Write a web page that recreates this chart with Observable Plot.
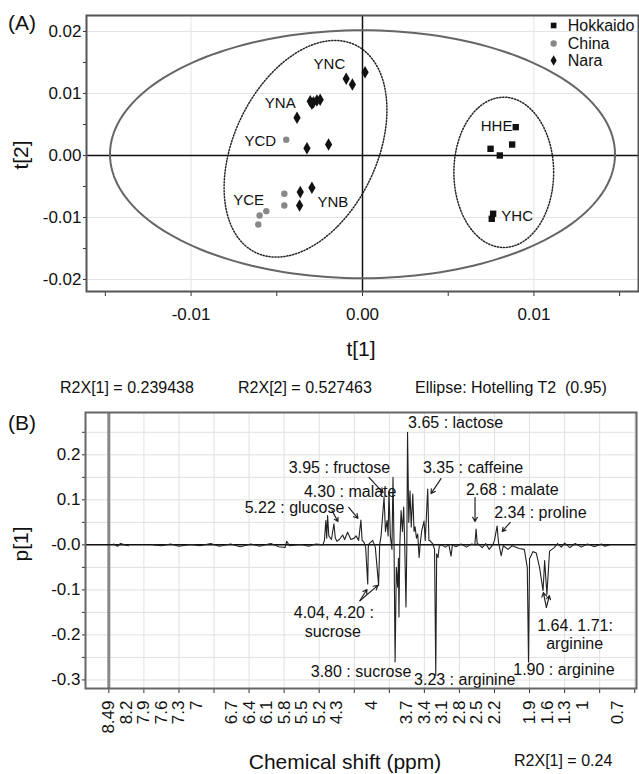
<!DOCTYPE html>
<html><head><meta charset="utf-8">
<script src="https://cdn.jsdelivr.net/npm/d3@7"></script>
<script src="https://cdn.jsdelivr.net/npm/@observablehq/plot@0.6"></script>
<style>
body{margin:0;background:#fff;font-family:"Liberation Sans",Arial,sans-serif;}
#wrap{position:relative;width:639px;height:774px;overflow:hidden;background:#fff;}
#wrap svg{position:absolute;left:0;}
.t{position:absolute;white-space:nowrap;color:#111;line-height:1;font-family:"Liberation Sans",Arial,sans-serif;}
</style></head><body><div id="wrap"></div>
<script>
// ---------- Panel A: PCA scores ----------
const hokkaidoT1 = [0.00894, 0.00747, 0.00873, 0.00801, 0.00762, 0.00754];
const hokkaidoT2 = [0.00457, 0.00108, 0.00177, 0.0, -0.0094, -0.01021];
const chinaT1 = [-0.00445, -0.00456, -0.00456, -0.00561, -0.0060, -0.00608];
const chinaT2 = [0.00253, -0.00618, -0.00806, -0.00898, -0.00968, -0.01113];
const naraT1 = [0.00015, -0.00095, -0.00059, -0.00305, -0.00286, -0.00266, -0.00247, -0.00295, -0.00382, -0.00324, -0.00198, -0.00363, -0.00295, -0.00367];
const naraT2 = [0.01344, 0.01237, 0.01145, 0.00876, 0.0086, 0.00887, 0.00898, 0.00834, 0.00608, 0.00118, 0.00177, -0.00591, -0.00521, -0.00806];

const sampleNames = ["YNC", "YNA", "YCD", "YCE", "YNB", "HHE", "YHC"];
const sampleLabelT1 = [-0.00193, -0.0048, -0.00596, -0.00664, -0.00173, 0.00782, 0.00902];
const sampleLabelT2 = [0.01468, 0.00844, 0.00231, -0.00726, -0.00753, 0.00468, -0.00984];

const legendNames = ["Hokkaido", "China", "Nara"];
const legendSymbols = ["square", "circle", "diamond"];
const legendColors = ["#111", "#888", "#111"];

// ellipses: centre + two semi-axis vectors (data units)
const ellipseCX = [0, -0.003324, 0.00824];
const ellipseCY = [0.0002, 0.00108, -0.00272];
const ellipseAX = [0.01473, 0.002908, 0.00291];
const ellipseAY = [0, 0.01674, 0];
const ellipseBX = [0, 0.003755, 0];
const ellipseBY = [0.0200, -0.005008, 0.01212];

const xTicksA = [-0.015, -0.01, -0.005, 0, 0.005, 0.01, 0.015];
const xLabelsA = [-0.01, 0, 0.01];
const yTicksA = [-0.02, -0.015, -0.01, -0.005, 0, 0.005, 0.01, 0.015, 0.02];
const yLabelsA = [-0.02, -0.01, 0, 0.01, 0.02];

// ---------- Panel B: loading spectrum p[1] ----------
const shiftLabels = ["8.49","8.2","7.9","7.6","7.3","7","6.7","6.4","6.1","5.8","5.5","5.2","4.3","4","3.7","3.4","3.1","2.8","2.5","2.2","1.9","1.6","1.3","1","0.7"];
const shiftLabelPos = [0,1,2,3,4,5,7,8,9,10,11,12,13,15,17,18,19,20,21,22,24,25,26,27,29];
const tickPosB = [0,2,4,6,8,10,12,14,16,18,20,22,24,26,28,30];
const yTicksB = [-0.3,-0.25,-0.2,-0.15,-0.1,-0.05,0,0.05,0.1,0.15,0.2,0.25];
const yLabelsB = [-0.3,-0.2,-0.1,0,0.1,0.2];

const specPos = [0.27,0.5,0.67,0.9,1.13,1.5,
 2.55,3.0,3.53,4.0,4.67,5.2,5.81,6.3,6.95,7.5,8.1,8.6,9.24,9.7,10.05,10.15,10.3,10.95,11.4,11.81,12.21,
 12.3,12.38,12.43,12.48,12.55,12.7,12.84,12.92,13.01,13.15,13.34,13.45,13.62,13.81,14.0,14.1,14.25,14.38,14.45,14.55,14.65,14.77,14.8,14.84,15.05,15.2,15.39,15.45,15.53,
 15.7,15.78,15.87,15.93,15.98,16.06,16.15,16.21,16.27,16.33,16.4,16.48,16.52,16.55,16.6,16.67,16.75,16.82,16.88,16.95,17.0,17.04,17.11,17.18,17.25,17.34,17.41,17.47,17.55,17.62,17.7,17.77,17.85,17.98,18.05,18.19,18.26,18.33,18.48,18.58,18.65,18.7,18.78,18.85,18.95,
 19.2,19.4,19.52,19.6,19.8,20.1,20.4,20.7,20.88,20.95,21.02,21.07,21.3,21.5,21.7,21.9,22.0,22.15,22.23,22.38,22.5,22.77,23.0,23.41,23.7,23.87,23.94,24.0,24.04,24.19,24.38,24.57,24.77,24.86,24.99,25.14,25.41,25.6,25.81,26.0,26.3,26.6,26.95,27.3,27.7,28.1,28.3,28.55];
const specP1 = [0.002,-0.003,0.003,0,-0.002,null,
 0,-0.002,0.002,-0.003,0.001,-0.002,0.003,-0.003,0.002,-0.004,0.002,-0.003,0.003,-0.004,-0.006,0.008,-0.002,0.001,-0.003,0.002,0.0,
 0.01,0.054,0.015,0.065,0.02,0.012,0.047,0.015,0.008,0.012,0.022,0.012,0.028,0.012,0.015,0.02,0.01,0.055,0.01,0.006,-0.005,-0.087,-0.005,0.002,0.01,-0.005,-0.09,0.0,0.02,
 0.106,0.03,0.054,0.02,0.117,0.02,-0.01,0.15,0.0,-0.26,-0.05,-0.094,-0.03,-0.16,0.0,0.076,0.03,0.084,0.0,-0.138,0.0,0.25,0.05,0.12,0.04,0.113,0.03,0.04,0.015,0.024,-0.028,0.005,0.031,0.053,0.01,0.124,0.01,0.009,0.002,-0.01,-0.29,-0.02,-0.028,-0.003,0.0,
 -0.005,0.0,-0.025,0.0,-0.004,0.002,-0.005,0.002,0.0,0.035,0.0,0.002,-0.006,0.003,-0.01,0.0,0.01,0.042,0.005,-0.024,-0.002,-0.01,-0.002,-0.008,-0.01,-0.05,-0.26,-0.03,-0.028,-0.015,-0.018,-0.05,-0.102,-0.035,-0.11,-0.014,-0.006,0.003,-0.005,0.004,-0.006,0.003,-0.005,0.002,-0.004,0.002,-0.003,0.0];

const noteText = ["3.65 : lactose","3.95 : fructose","4.30 : malate","5.22 : glucose","3.35 : caffeine","2.68 : malate","2.34 : proline","4.04, 4.20 :","sucrose","3.80 : sucrose","3.23 : arginine","1.90 : arginine","1.64. 1.71:","arginine"];
const notePos = [17.07,10.27,11.13,7.75,17.92,20.38,21.98,10.55,11.18,11.52,17.41,23.07,24.44,24.95];
const noteP1 = [0.272,0.170,0.118,0.083,0.170,0.123,0.072,-0.150,-0.193,-0.282,-0.299,-0.277,-0.179,-0.219];

const arrowPos1 = [12.73,13.69,14.84,18.95,20.89,22.90,14.32,14.32,24.96,24.96];
const arrowP1a  = [0.076,0.083,0.150,0.147,0.105,0.050,-0.124,-0.124,-0.139,-0.139];
const arrowPos2 = [13.07,14.21,15.64,18.38,20.89,22.44,14.72,15.35,24.79,25.13];
const arrowP1b  = [0.052,0.059,0.116,0.114,0.052,0.030,-0.099,-0.090,-0.106,-0.113];

// ---------- build ----------
const FONT = '"Liberation Sans", Arial, sans-serif';
const near = (arr, v) => arr.some(a => Math.abs(a - v) < 1e-9);

const ellipseLines = ellipseCX.map((cx, k) =>
  d3.range(0, 361, 2).map(deg => {
    const t = deg * Math.PI / 180;
    return {x: cx + Math.cos(t) * ellipseAX[k] + Math.sin(t) * ellipseBX[k],
            y: ellipseCY[k] + Math.cos(t) * ellipseAY[k] + Math.sin(t) * ellipseBY[k]};
  }));

const hokkaido = hokkaidoT1.map((x, i) => ({x, y: hokkaidoT2[i]}));
const china = chinaT1.map((x, i) => ({x, y: chinaT2[i]}));
const nara = naraT1.map((x, i) => ({x, y: naraT2[i]}));
const sampleLabels = sampleNames.map((n, i) => ({n, x: sampleLabelT1[i], y: sampleLabelT2[i]}));
const legendX = 0.01115, legendTextX = 0.01197;
const legendY = [0.02097, 0.01806, 0.01532];
const legend = legendNames.map((n, i) => ({n, s: legendSymbols[i], c: legendColors[i], y: legendY[i]}));

const fmtA = v => near(xLabelsA.concat(yLabelsA), v) ? (Math.abs(v) < 1e-12 ? "0.00" : v.toFixed(2)) : "";

const plotA = Plot.plot({
  width: 639, height: 360,
  marginLeft: 86, marginRight: 1, marginTop: 15, marginBottom: 69,
  x: {domain: [-0.0161, 0.0161]},
  y: {domain: [-0.02194, 0.02258]},
  style: {fontFamily: FONT, fontSize: "17px", color: "#111", background: "white", overflow: "visible"},
  marks: [
    Plot.gridX(xLabelsA, {stroke: "#e4e4e4", strokeOpacity: 1}),
    Plot.gridY(yLabelsA, {stroke: "#e4e4e4", strokeOpacity: 1}),
    Plot.axisX(xTicksA, {tickSize: 5, tickPadding: 11, tickFormat: fmtA, fontSize: 17, label: null, stroke: "#333"}),
    Plot.axisY(yTicksA, {tickSize: 3, tickPadding: 2, tickFormat: fmtA, fontSize: 17, label: null, stroke: "#333"}),
    Plot.ruleX([0], {stroke: "#111", strokeWidth: 1.5}),
    Plot.ruleY([0], {stroke: "#111", strokeWidth: 1.5}),
    Plot.line(ellipseLines[0], {x: "x", y: "y", stroke: "#666", strokeWidth: 2}),
    Plot.line(ellipseLines[1], {x: "x", y: "y", stroke: "#222", strokeWidth: 1.5, strokeDasharray: "1.2,1.8"}),
    Plot.line(ellipseLines[2], {x: "x", y: "y", stroke: "#222", strokeWidth: 1.5, strokeDasharray: "1.2,1.8"}),
    Plot.dot(china, {x: "x", y: "y", r: 3.2, fill: "#888", stroke: "none"}),
    Plot.dot(hokkaido, {x: "x", y: "y", r: 3.6, symbol: "square", fill: "#111", stroke: "none"}),
    Plot.dot(nara, {x: "x", y: "y", r: 3.8, symbol: "diamond", fill: "#111", stroke: "none"}),
    Plot.text(sampleLabels, {x: "x", y: "y", text: "n", fontSize: 15, fill: "#111", textAnchor: "middle"}),
    Plot.dot(legend, {x: () => legendX, y: "y", symbol: "s", fill: "c", r: 3.2, stroke: "none"}),
    Plot.text(legend, {x: () => legendTextX, y: "y", text: "n", textAnchor: "start", fontSize: 16, fill: "#111"}),
    Plot.frame({stroke: "#555", strokeWidth: 2})
  ]
});
plotA.style.top = "0px";

const fmtB = v => near(yLabelsB, v) ? (Math.abs(v) < 1e-12 ? "-0.0" : v.toFixed(1)) : "";
const spectrum = specPos.map((x, i) => ({x, y: specP1[i]}));
const notes = noteText.map((t, i) => ({t, x: notePos[i], y: noteP1[i]}));
const arrows = arrowPos1.map((x1, i) => ({x1, y1: arrowP1a[i], x2: arrowPos2[i], y2: arrowP1b[i]}));

const plotB = Plot.plot({
  width: 639, height: 374,
  marginLeft: 85, marginRight: 3, marginTop: 12, marginBottom: 86,
  x: {domain: [-1.33, 30.1]},
  y: {domain: [-0.319, 0.294]},
  style: {fontFamily: FONT, fontSize: "17px", color: "#111", background: "white", overflow: "visible"},
  marks: [
    Plot.gridX(tickPosB, {stroke: "#e0e0e0", strokeOpacity: 1}),
    Plot.gridY(yTicksB, {stroke: "#e0e0e0", strokeOpacity: 1}),
    Plot.axisX(tickPosB, {tickSize: 5, tickFormat: () => "", label: null, stroke: "#333"}),
    Plot.axisX(shiftLabelPos, {tickSize: 0, tickPadding: 12, tickRotate: -90, fontSize: 17, label: null,
      tickFormat: v => shiftLabels[shiftLabelPos.indexOf(v)]}),
    Plot.axisY(yTicksB, {tickSize: 3, tickPadding: 2, tickFormat: fmtB, fontSize: 17, label: null, stroke: "#333"}),
    Plot.ruleX([0], {stroke: "#888", strokeWidth: 3}),
    Plot.ruleY([0], {stroke: "#111", strokeWidth: 1.5}),
    Plot.line(spectrum, {x: "x", y: "y", stroke: "#222", strokeWidth: 1.1}),
    Plot.arrow(arrows, {x1: "x1", y1: "y1", x2: "x2", y2: "y2", stroke: "#222", strokeWidth: 1.2, headLength: 6}),
    Plot.text(notes, {x: "x", y: "y", text: "t", textAnchor: "start", fontSize: 16, fill: "#111"}),
    Plot.frame({stroke: "#666", strokeWidth: 2})
  ]
});
plotB.style.top = "400px";

const wrap = document.getElementById("wrap");
wrap.appendChild(plotA);
wrap.appendChild(plotB);

function addText(str, x, y, size, anchor) {
  const d = document.createElement("div");
  d.className = "t";
  d.textContent = str;
  d.style.fontSize = size + "px";
  d.style.left = x + "px";
  d.style.top = y + "px";
  const tx = anchor === "middle" ? "-50%" : "0";
  d.style.transform = `translate(${tx}, -50%)`;
  wrap.appendChild(d);
  return d;
}
addText("(A)", 8, 22, 21, "start");
const t2 = addText("t[2]", 20, 155, 21, "middle");
t2.style.transform = "translate(-50%, -50%) rotate(-90deg)";
t2.style.transformOrigin = "50% 50%";
addText("t[1]", 361, 348, 21, "middle");
addText("R2X[1] = 0.239438", 60, 388, 16, "start");
addText("R2X[2] = 0.527463", 238, 388, 16, "start");
addText("Ellipse: Hotelling T2  (0.95)", 415, 388, 16, "start").style.whiteSpace = "pre";
addText("(B)", 8, 422, 21, "start");
const p1 = addText("p[1]", 20, 544, 21, "middle");
p1.style.transform = "translate(-50%, -50%) rotate(-90deg)";
p1.style.transformOrigin = "50% 50%";
addText("Chemical shift (ppm)", 345, 761, 21, "middle");
addText("R2X[1] = 0.24", 514, 761, 16, "start");
</script></body></html>
